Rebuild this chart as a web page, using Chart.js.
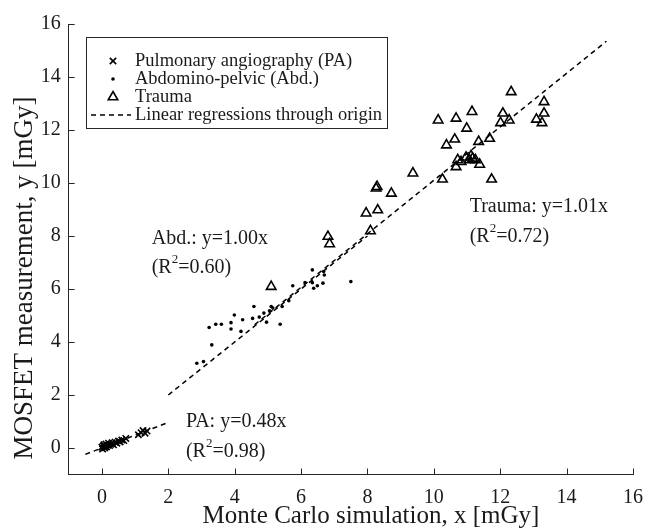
<!DOCTYPE html>
<html>
<head>
<meta charset="utf-8">
<script src="https://cdn.jsdelivr.net/npm/chart.js@4.4.0/dist/chart.umd.min.js"></script>
<style>
  html, body { margin: 0; padding: 0; background: #fff; }
  #chart { display: block; }
</style>
</head>
<body>
<canvas id="chart" width="654" height="530"></canvas>
<script>
const xTicks = [0, 2, 4, 6, 8, 10, 12, 14, 16];
const yTicks = [0, 2, 4, 6, 8, 10, 12, 14, 16];

// Pulmonary angiography (PA)
const paX = [0.00, 0.02, 0.04, 0.06, 0.08, 0.10, 0.12, 0.14, 0.17, 0.20, 0.23, 0.27, 0.31, 0.35, 0.40, 0.45, 0.50, 0.55, 0.60, 0.66, 0.72, 1.10, 1.18, 1.24, 1.30, 1.36];
const paY = [0.03, -0.04, 0.08, 0.12, 0.00, 0.06, 0.15, 0.04, 0.10, 0.18, 0.09, 0.14, 0.20, 0.12, 0.22, 0.18, 0.26, 0.23, 0.30, 0.28, 0.36, 0.50, 0.58, 0.66, 0.56, 0.64];

// Abdomino-pelvic (Abd.)
const abdX = [2.86, 3.06, 3.31, 3.23, 3.43, 3.60, 3.89, 3.89, 3.99, 4.24, 4.19, 4.54, 4.58, 4.74, 4.88, 4.96, 5.05, 5.10, 5.15, 5.37, 5.43, 5.63, 5.75, 6.12, 6.34, 6.34, 6.38, 6.49, 6.68, 6.70, 6.66, 7.50];
const abdY = [3.20, 3.26, 3.89, 4.55, 4.67, 4.67, 4.73, 4.49, 5.02, 4.84, 4.40, 4.89, 5.34, 4.94, 5.09, 4.75, 5.18, 5.34, 5.28, 4.67, 5.34, 5.56, 6.12, 6.24, 6.72, 6.24, 6.03, 6.12, 6.66, 6.53, 6.22, 6.28];

// Trauma
const traumaX = [12.33, 13.32, 13.32, 13.09, 13.26, 12.08, 12.27, 12.01, 11.15, 10.67, 10.13, 10.99, 10.63, 10.38, 11.35, 11.68, 10.72, 10.97, 11.12, 11.25, 11.38, 10.67, 11.07, 11.17, 10.82, 11.74, 10.26, 9.37, 8.29, 8.26, 8.72, 7.96, 8.31, 8.09, 6.81, 6.86, 5.10];
const traumaY = [13.44, 13.06, 12.63, 12.40, 12.27, 12.63, 12.37, 12.27, 12.69, 12.44, 12.37, 12.06, 11.65, 11.43, 11.56, 11.68, 10.87, 10.97, 11.02, 10.87, 10.70, 10.61, 10.87, 10.93, 10.80, 10.14, 10.14, 10.37, 9.86, 9.80, 9.61, 8.86, 8.98, 8.19, 7.98, 7.70, 6.09];

// regression lines through origin (end points)
const paFitX = [-0.5, 1.95];
const paFitY = [-0.24, 0.94];
const abdFitX = [2.0, 8.0];
const abdFitY = [2.0, 8.0];
const traumaFitX = [4.6, 15.2];
const traumaFitY = [4.65, 15.35];

const legendLabels = ['Pulmonary angiography (PA)', 'Abdomino-pelvic (Abd.)', 'Trauma', 'Linear regressions through origin'];
const fitLabels = ['PA: y=0.48x', 'Abd.: y=1.00x', 'Trauma: y=1.01x'];
const fitR2 = ['0.98', '0.60', '0.72'];

const xTitle = 'Monte Carlo simulation, x [mGy]';
const yTitle = 'MOSFET measurement, y [mGy]';

const FONT = '"Liberation Serif", "Times New Roman", serif';
const INK = '#1a1a1a';

const pts = (xs, ys) => xs.map((x, i) => ({ x, y: ys[i] }));

const fitLine = (xs, ys) => ({
  type: 'line',
  data: pts(xs, ys),
  showLine: true,
  borderColor: '#000',
  borderWidth: 1.5,
  borderDash: [5, 4],
  pointRadius: 0,
  fill: false
});

// ticks drawn inside the axes, titles, annotations and legend
const decor = {
  id: 'decor',
  afterDraw(chart) {
    const ctx = chart.ctx;
    const xs = chart.scales.x, ys = chart.scales.y;
    const area = chart.chartArea;
    ctx.save();
    ctx.strokeStyle = '#262626';
    ctx.lineWidth = 1;
    xTicks.forEach(v => {
      const px = Math.round(xs.getPixelForValue(v)) + 0.5;
      ctx.beginPath();
      ctx.moveTo(px, area.bottom);
      ctx.lineTo(px, area.bottom - 6);
      ctx.stroke();
    });
    yTicks.forEach(v => {
      const py = Math.round(ys.getPixelForValue(v)) + 0.5;
      ctx.beginPath();
      ctx.moveTo(area.left, py);
      ctx.lineTo(area.left + 6, py);
      ctx.stroke();
    });

    // axis titles
    ctx.fillStyle = INK;
    ctx.textAlign = 'center';
    ctx.textBaseline = 'middle';
    ctx.font = '25px ' + FONT;
    ctx.fillText(xTitle, 371, 516);
    ctx.save();
    ctx.translate(25, 278);
    ctx.rotate(-Math.PI / 2);
    ctx.font = '27px ' + FONT;
    ctx.fillText(yTitle, 0, 0);
    ctx.restore();

    // regression annotations, anchored in data units
    const anchors = [
      { x: 2.53, y1: 1.0, y2: -0.13 },
      { x: 1.50, y1: 7.89, y2: 6.81 },
      { x: 11.08, y1: 9.11, y2: 7.98 }
    ];
    ctx.textAlign = 'left';
    anchors.forEach((a, i) => {
      const px = xs.getPixelForValue(a.x);
      ctx.font = '20px ' + FONT;
      ctx.fillText(fitLabels[i], px, ys.getPixelForValue(a.y1));
      const py = ys.getPixelForValue(a.y2);
      let w = 0;
      ctx.fillText('(R', px, py);
      w += ctx.measureText('(R').width;
      ctx.font = '13px ' + FONT;
      ctx.fillText('2', px + w, py - 8);
      w += ctx.measureText('2').width;
      ctx.font = '20px ' + FONT;
      ctx.fillText('=' + fitR2[i] + ')', px + w, py);
    });

    // legend box
    const bx = 86.5, by = 37.5, bw = 301, bh = 91;
    ctx.fillStyle = '#fff';
    ctx.fillRect(bx, by, bw, bh);
    ctx.strokeStyle = '#262626';
    ctx.lineWidth = 1;
    ctx.strokeRect(bx, by, bw, bh);
    const mx = 113, tx = 135;
    legendLabels.forEach((label, i) => {
      const ly = 61 + i * 18;
      ctx.fillStyle = INK;
      ctx.font = '18.5px ' + FONT;
      ctx.fillText(label, tx, ly);
      const ds = chart.data.datasets[i];
      ctx.strokeStyle = '#000';
      if (i < 3) {
        ctx.save();
        ctx.fillStyle = ds.backgroundColor;
        ctx.lineWidth = ds.borderWidth;
        Chart.helpers.drawPoint(ctx, {
          pointStyle: ds.pointStyle,
          radius: ds.pointRadius,
          borderWidth: ds.borderWidth,
          rotation: 0
        }, mx, ly);
        ctx.restore();
      } else {
        ctx.save();
        ctx.lineWidth = 1.5;
        ctx.setLineDash([5, 4]);
        ctx.beginPath();
        ctx.moveTo(91, ly);
        ctx.lineTo(131, ly);
        ctx.stroke();
        ctx.restore();
      }
    });
    ctx.restore();
  }
};

new Chart(document.getElementById('chart').getContext('2d'), {
  type: 'scatter',
  data: {
    datasets: [
      {
        label: legendLabels[0],
        data: pts(paX, paY),
        pointStyle: 'crossRot',
        pointRadius: 4.5,
        borderColor: '#000',
        backgroundColor: '#000',
        borderWidth: 1.6
      },
      {
        label: legendLabels[1],
        data: pts(abdX, abdY),
        pointStyle: 'circle',
        pointRadius: 1.8,
        borderColor: '#000',
        backgroundColor: '#000',
        borderWidth: 0
      },
      {
        label: legendLabels[2],
        data: pts(traumaX, traumaY),
        pointStyle: 'triangle',
        pointRadius: 5.5,
        borderColor: '#000',
        backgroundColor: 'rgba(0,0,0,0)',
        borderWidth: 1.6
      },
      fitLine(paFitX, paFitY),
      fitLine(abdFitX, abdFitY),
      fitLine(traumaFitX, traumaFitY)
    ]
  },
  options: {
    responsive: false,
    animation: false,
    layout: { padding: { top: 24, right: 10.7, left: 0, bottom: 0 } },
    plugins: {
      legend: { display: false },
      tooltip: { enabled: false }
    },
    scales: {
      x: {
        type: 'linear',
        min: -1,
        max: 16,
        grid: { display: false, drawTicks: false },
        border: { display: true, color: '#262626', width: 1 },
        afterBuildTicks: s => { s.ticks = xTicks.map(v => ({ value: v })); },
        afterFit: s => { s.height = 55.5; },
        ticks: {
          padding: 11,
          maxRotation: 0,
          color: INK,
          font: { family: FONT, size: 20 }
        }
      },
      y: {
        type: 'linear',
        min: -1,
        max: 16,
        grid: { display: false, drawTicks: false },
        border: { display: true, color: '#262626', width: 1 },
        afterBuildTicks: s => { s.ticks = yTicks.map(v => ({ value: v })); },
        afterFit: s => { s.width = 68.7; },
        ticks: {
          padding: 8,
          color: INK,
          font: { family: FONT, size: 20 }
        }
      }
    }
  },
  plugins: [decor]
});
</script>
</body>
</html>
